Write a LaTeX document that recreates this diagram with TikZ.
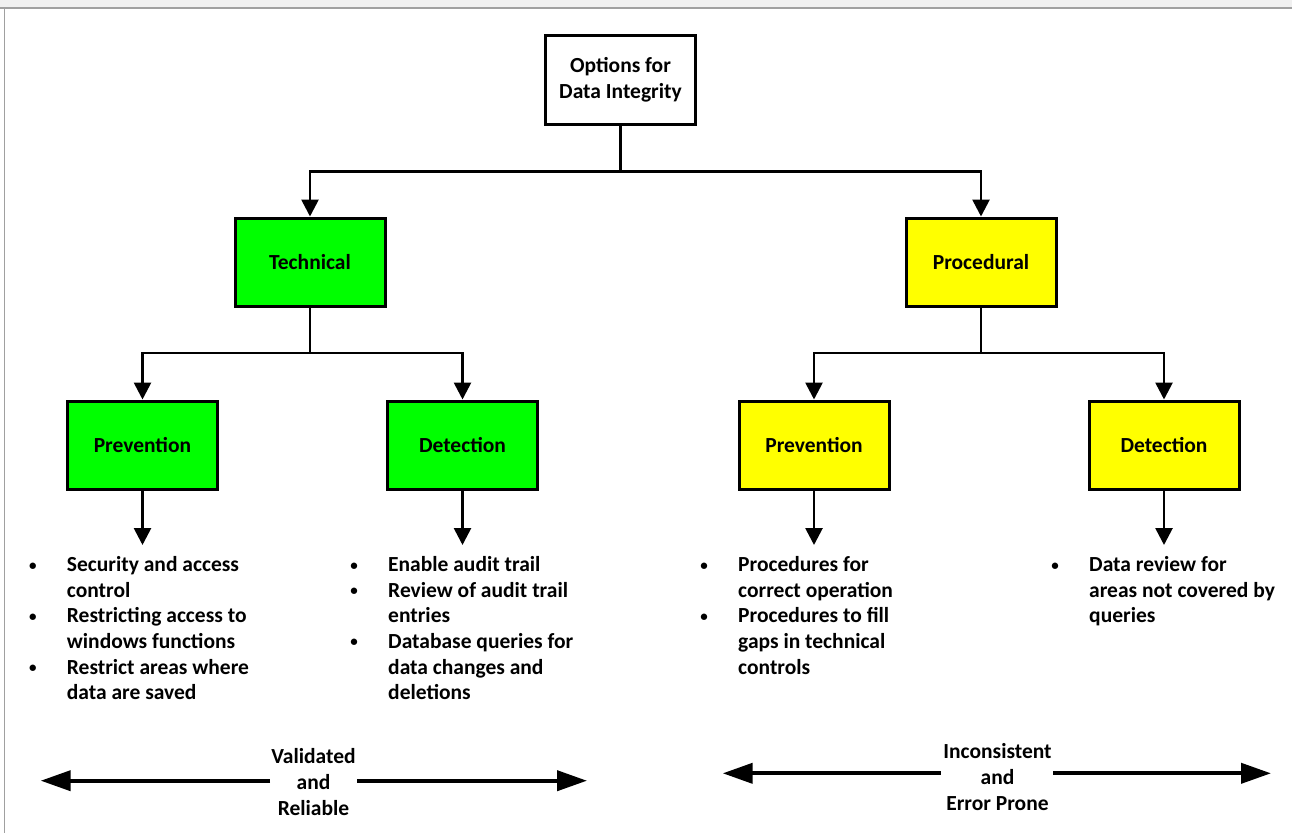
\documentclass[tikz,border=0pt]{standalone}
\usepackage{fontspec}
\setmainfont{Carlito}
\usetikzlibrary{arrows.meta}
\definecolor{vgreen}{HTML}{00FF00}
\definecolor{vyellow}{HTML}{FFFF00}
\definecolor{barfill}{HTML}{F0F0F0}
\definecolor{barline}{HTML}{A0A0A0}
\newcommand{\bul}{\makebox[34pt][l]{\hbox to 0pt{\hss\raisebox{1.6pt}{\scalebox{0.7}{\textbullet}}\hss}}}
\newcommand{\cont}{\hspace*{34pt}}
\begin{document}
\begin{tikzpicture}[x=1pt,y=-1pt,
  txt/.style={font=\fontsize{21.5}{25.6}\selectfont\bfseries},
  box/.style={txt, draw=black, line width=3pt, minimum width=150pt, minimum height=88pt, inner sep=0pt, align=center},
  gbox/.style={box, fill=vgreen},
  ybox/.style={box, fill=vyellow},
  wbox/.style={box, fill=white},
  link/.style={line width=2.7pt},
  conn/.style={line width=2.7pt, -{Triangle[length=17pt,width=17pt]}},
  big/.style={line width=4pt, -{Triangle[length=30pt,width=20pt]}},
  lst/.style={txt, anchor=north west, inner sep=0pt, align=left},
  lbl/.style={txt, align=center, inner sep=0pt}]
\useasboundingbox (0,0) rectangle (1292,833);
% window frame
\fill[barfill] (0,0) rectangle (1292,8);
\draw[barline, line width=1.2pt] (0,8) -- (1292,8);
\draw[barline, line width=1.2pt] (4.7,8) -- (4.7,833);

% boxes
\node[wbox, minimum height=89pt] (title) at (620.5,80) {\raisebox{-6pt}{\renewcommand{\arraystretch}{1.03}\begin{tabular}{@{}c@{}}Options for\\Data Integrity\end{tabular}}};
\node[gbox] (tech) at (310,262) {Technical};
\node[ybox] (proc) at (981,262) {Procedural};
\node[gbox] (tprev) at (142.5,445) {Prevention};
\node[gbox] (tdet) at (462.5,445) {Detection};
\node[ybox] (pprev) at (814,445) {Prevention};
\node[ybox] (pdet) at (1164,445) {Detection};

% junctions
\coordinate (j0) at (620.5,171.7);
\coordinate (j1) at (310,353);
\coordinate (j2) at (981,353);

\draw[link] (title.south) -- (j0);
\draw[conn] (j0) -| (tech.north);
\draw[conn] (j0) -| (proc.north);
\draw[link] (tech.south) -- (j1);
\draw[conn] (j1) -| (tprev.north);
\draw[conn] (j1) -| (tdet.north);
\draw[link] (proc.south) -- (j2);
\draw[conn] (j2) -| (pprev.north);
\draw[conn] (j2) -| (pdet.north);

% lists
\node[lst] (l1) at (32.7,556.5) {\bul Security and access\\\cont control\\\bul Restricting access to\\\cont windows functions\\\bul Restrict areas where\\\cont data are saved};
\node[lst] (l2) at (354,556.5) {\bul Enable audit trail\\\bul Review of audit trail\\\cont entries\\\bul Database queries for\\\cont data changes and\\\cont deletions};
\node[lst] (l3) at (704,556.5) {\bul Procedures for\\\cont correct operation\\\bul Procedures to fill\\\cont gaps in technical\\\cont controls};
\node[lst] (l4) at (1055,556.5) {\bul Data review for\\\cont areas not covered by\\\cont queries};

\coordinate (e1) at (142.5,545);
\coordinate (e2) at (462.5,545);
\coordinate (e3) at (814,545);
\coordinate (e4) at (1164,545);
\draw[conn] (tprev.south) -- (e1);
\draw[conn] (tdet.south) -- (e2);
\draw[conn] (pprev.south) -- (e3);
\draw[conn] (pdet.south) -- (e4);

% bottom scales
\node[lbl] (val) at (313.5,782) {Validated\\and\\Reliable};
\coordinate (v1) at (270,780.7);
\coordinate (v2) at (40.7,780.7);
\coordinate (v3) at (357,780.7);
\coordinate (v4) at (587,780.7);
\draw[big] (v1) -- (v2);
\draw[big] (v3) -- (v4);

\node[lbl] (inc) at (997.5,777) {Inconsistent\\and\\Error Prone};
\coordinate (i1) at (940.7,773.3);
\coordinate (i2) at (722.7,773.3);
\coordinate (i3) at (1053,773.3);
\coordinate (i4) at (1271,773.3);
\draw[big] (i1) -- (i2);
\draw[big] (i3) -- (i4);
\end{tikzpicture}
\end{document}
